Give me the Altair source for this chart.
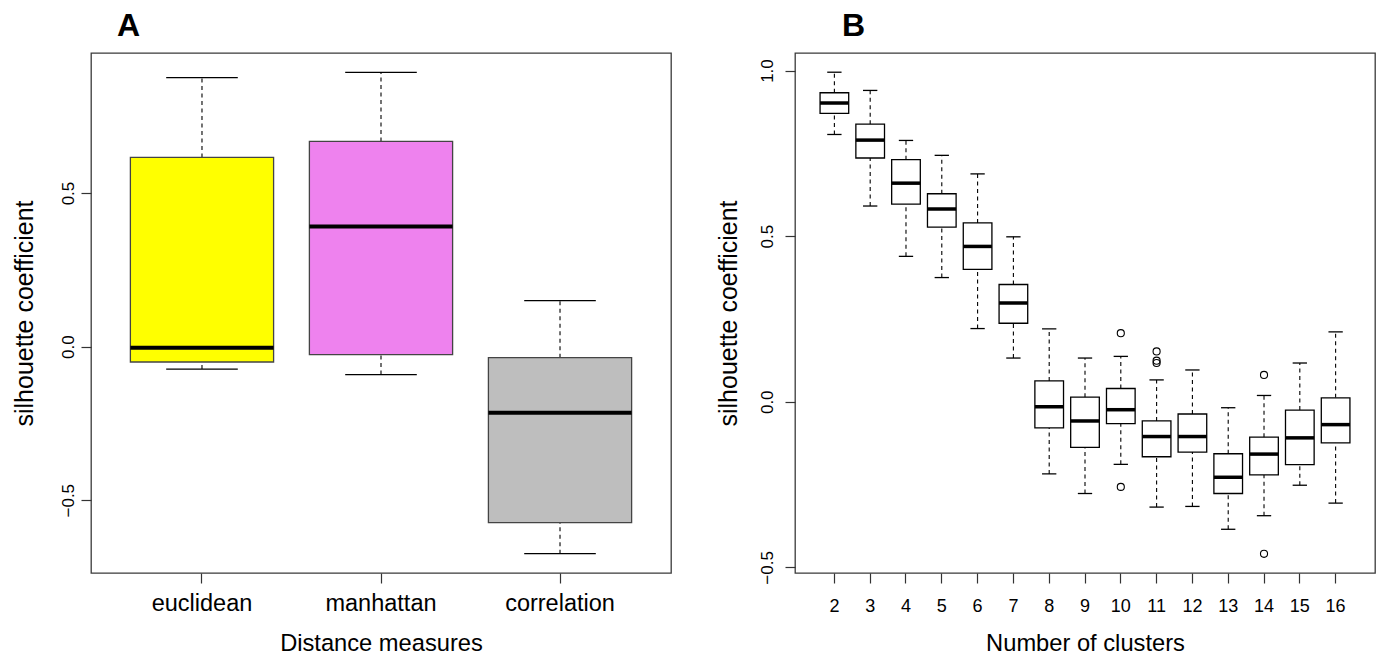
import altair as alt
import pandas as pd

# ---------------- Panel A data ----------------
dist_names = ["euclidean", "manhattan", "correlation"]
dist_min = [-0.073, -0.091, -0.674]
dist_q1 = [-0.050, -0.026, -0.573]
dist_med = [-0.004, 0.391, -0.215]
dist_q3 = [0.616, 0.668, -0.036]
dist_max = [0.876, 0.893, 0.150]
dist_colors = ["#FFFF00", "#EE82EE", "#BEBEBE"]

# ---------------- Panel B data ----------------
k_labels = [str(k) for k in range(2, 17)]
k_min = [0.807, 0.591, 0.439, 0.375, 0.221, 0.132, -0.218, -0.277, -0.189, -0.318, -0.316, -0.385, -0.344, -0.252, -0.306]
k_q1 = [0.871, 0.736, 0.597, 0.527, 0.400, 0.237, -0.079, -0.138, -0.066, -0.166, -0.152, -0.277, -0.221, -0.190, -0.124]
k_med = [0.902, 0.790, 0.660, 0.582, 0.469, 0.298, -0.015, -0.058, -0.024, -0.105, -0.105, -0.228, -0.158, -0.109, -0.069]
k_q3 = [0.933, 0.838, 0.731, 0.628, 0.540, 0.354, 0.063, 0.014, 0.040, -0.058, -0.037, -0.157, -0.107, -0.025, 0.012]
k_max = [0.995, 0.940, 0.789, 0.744, 0.688, 0.498, 0.220, 0.132, 0.137, 0.066, 0.096, -0.018, 0.019, 0.117, 0.211]
out_k = ["10", "10", "11", "11", "11", "14", "14"]
out_v = [0.207, -0.257, 0.152, 0.124, 0.117, 0.081, -0.459]

FONT = "Liberation Sans"
W, H = 580, 520

dfA = pd.DataFrame({"cat": dist_names, "lo": dist_min, "q1": dist_q1, "med": dist_med,
                    "q3": dist_q3, "hi": dist_max, "col": dist_colors})
dfB = pd.DataFrame({"cat": k_labels, "lo": k_min, "q1": k_q1, "med": k_med,
                    "q3": k_q3, "hi": k_max})
dfO = pd.DataFrame({"cat": out_k, "v": out_v})


def panel(df, cats, domain, yvals, pad_outer, xaxis, ylabpad, title_text, title_dx,
          fill_enc, box_stroke, med_w, out_df=None):
    n = len(cats)
    step = W / (n - 0.2 + 2 * pad_outer)
    bw = 0.8 * step
    xs = alt.Scale(paddingInner=0.2, paddingOuter=pad_outer)
    ys = alt.Scale(domain=domain, nice=False, zero=False)
    yaxis = alt.Axis(values=yvals, format=".1f", grid=False, domain=False,
                     tickSize=10, tickColor="#333333", tickWidth=1.2,
                     labelAngle=270, labelAlign="center", labelBaseline="alphabetic",
                     labelPadding=ylabpad, labelFontSize=17, labelFont=FONT, labelColor="black",
                     title="silhouette coefficient", titleFont=FONT, titleFontSize=25,
                     titleFontWeight="normal", titleColor="black", titleAngle=270,
                     titleAlign="center", titleBaseline="alphabetic", titleX=-59, titleY=H / 2)
    X = alt.X("cat:N", sort=cats, scale=xs, axis=xaxis)
    Y = lambda f: alt.Y(f, scale=ys, axis=yaxis)
    base = alt.Chart(df)
    upper = base.mark_rule(color="black", strokeWidth=1.1, strokeDash=[4, 3.5]).encode(
        x=X, y=Y("q3:Q"), y2="hi:Q")
    lower = base.mark_rule(color="black", strokeWidth=1.1, strokeDash=[4, 3.5]).encode(
        x=X, y=Y("lo:Q"), y2="q1:Q")
    cap_hi = base.mark_tick(color="black", thickness=1.3, size=bw / 2, opacity=1).encode(
        x=X, y=Y("hi:Q"))
    cap_lo = base.mark_tick(color="black", thickness=1.3, size=bw / 2, opacity=1).encode(
        x=X, y=Y("lo:Q"))
    box = base.mark_rect(stroke=box_stroke, strokeWidth=1.3, opacity=1).encode(
        x=X, y=Y("q1:Q"), y2="q3:Q", fill=fill_enc)
    med = base.mark_tick(color="black", thickness=med_w, size=bw, opacity=1).encode(
        x=X, y=Y("med:Q"))
    layers = [upper, lower, cap_hi, cap_lo, box, med]
    if out_df is not None:
        pts = alt.Chart(out_df).mark_point(shape="circle", filled=False, color="black",
                                           size=50, strokeWidth=1.1, opacity=1).encode(
            x=X, y=Y("v:Q"))
        layers.append(pts)
    return alt.layer(*layers).properties(
        width=W, height=H,
        title=alt.TitleParams(text=title_text, anchor="start", fontSize=32, fontWeight="bold",
                              font=FONT, color="black", dx=title_dx, dy=33, offset=18,
                              baseline="alphabetic"))


xaxisA = alt.Axis(title="Distance measures", labelAngle=0, domain=False, grid=False,
                  tickSize=10, tickColor="#333333", tickWidth=1.2,
                  labelFont=FONT, labelFontSize=23.5, labelColor="black",
                  labelBaseline="alphabetic", labelPadding=27,
                  titleFont=FONT, titleFontSize=23.7, titleFontWeight="normal", titleColor="black",
                  titleBaseline="alphabetic", titleY=77)
xaxisB = alt.Axis(title="Number of clusters", labelAngle=0, domain=False, grid=False,
                  tickSize=10, tickColor="#333333", tickWidth=1.2,
                  labelFont=FONT, labelFontSize=18, labelColor="black",
                  labelBaseline="alphabetic", labelPadding=28,
                  titleFont=FONT, titleFontSize=23.7, titleFontWeight="normal", titleColor="black",
                  titleBaseline="alphabetic", titleY=77)

chartA = panel(dfA, dist_names, [-0.737, 0.956], [-0.5, 0.0, 0.5], 0.22, xaxisA, 8,
               "A", 105, alt.Fill("col:N", scale=None, legend=None), "#444444", 4)
chartB = panel(dfB, k_labels, [-0.517, 1.053], [-0.5, 0.0, 0.5, 1.0], 0.7, xaxisB, 13,
               "B", 126, alt.value("white"), "black", 3.5, out_df=dfO)

chart = alt.hconcat(chartA, chartB, spacing=124, bounds="flush").configure_view(
    stroke="#3a3a3a", strokeWidth=1.3
).properties(
    padding={"left": 11, "top": 9, "right": 2, "bottom": 0},
    background="white"
)

chart.save("out.html", embed_options={"renderer": "svg", "actions": False})
